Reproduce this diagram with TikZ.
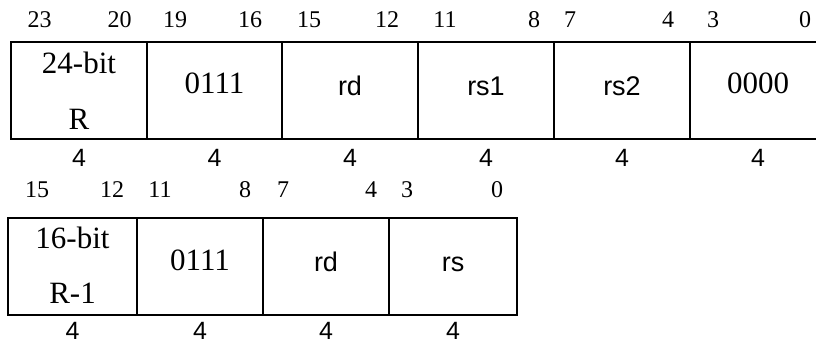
\documentclass[tikz,border=0pt]{standalone}
\usepackage{fontspec}
\setmainfont{Liberation Serif}
\setsansfont{Liberation Sans}
\begin{document}
\begin{tikzpicture}[x=1pt,y=-1pt,
 cell/.style={draw, line width=1.7pt, inner sep=0pt, minimum height=97pt},
 ser/.style={font=\fontsize{31}{35}\selectfont, inner sep=0pt, anchor=base},
 sans/.style={font=\sffamily\fontsize{27}{31}\selectfont, inner sep=0pt, anchor=base},
 bitnum/.style={font=\fontsize{24}{28}\selectfont, inner sep=0pt, anchor=base},
 fwidth/.style={font=\sffamily\fontsize{25}{29}\selectfont, inner sep=0pt, anchor=base}]
\useasboundingbox (0,0) rectangle (816,343);
\clip (0,0) rectangle (816,343);
% top row cells
\node[cell, minimum width=136pt] (c1) at (79,90.5) {};
\node[cell, minimum width=135pt] (c2) at (214.5,90.5) {};
\node[cell, minimum width=136pt] (c3) at (350,90.5) {};
\node[cell, minimum width=136pt] (c4) at (486,90.5) {};
\node[cell, minimum width=136pt] (c5) at (622,90.5) {};
\node[cell, minimum width=136pt] (c6) at (758,90.5) {};
% top row labels
\node[ser] (l1a) at (c1.center |- 0,73) {24-bit};
\node[ser] (l1b) at (c1.center |- 0,129) {R};
\node[ser] (l2) at (c2.center |- 0,93) {0111};
\node[sans] (l3) at (c3.center |- 0,95) {rd};
\node[sans] (l4) at (c4.center |- 0,95) {rs1};
\node[sans] (l5) at (c5.center |- 0,95) {rs2};
\node[ser] (l6) at (c6.center |- 0,93) {0000};
% top bit numbers
\node[bitnum] (b23) at (39.5,27) {23};
\node[bitnum] (b20) at (119.5,27) {20};
\node[bitnum] (b19) at (175,27) {19};
\node[bitnum] (b16) at (250,27) {16};
\node[bitnum] (b15) at (309,27) {15};
\node[bitnum] (b12) at (387,27) {12};
\node[bitnum] (b11) at (445,27) {11};
\node[bitnum] (b8) at (534,27) {8};
\node[bitnum] (b7) at (570,27) {7};
\node[bitnum] (b4) at (668,27) {4};
\node[bitnum] (b3) at (713,27) {3};
\node[bitnum] (b0) at (805,27) {0};
% top widths
\foreach \c in {c1,c2,c3,c4,c5,c6}
  \node[fwidth] (w\c) at (\c.center |- 0,166) {4};
% bottom row cells
\node[cell, minimum width=129pt] (d1) at (72.5,266.5) {};
\node[cell, minimum width=126pt] (d2) at (200,266.5) {};
\node[cell, minimum width=126pt] (d3) at (326,266.5) {};
\node[cell, minimum width=128pt] (d4) at (453,266.5) {};
% bottom labels
\node[ser] (m1a) at (d1.center |- 0,248) {16-bit};
\node[ser] (m1b) at (d1.center |- 0,303) {R-1};
\node[ser] (m2) at (d2.center |- 0,270) {0111};
\node[sans] (m3) at (d3.center |- 0,271) {rd};
\node[sans] (m4) at (d4.center |- 0,271) {rs};
% bottom bit numbers
\node[bitnum] (e15) at (37,197) {15};
\node[bitnum] (e12) at (112,197) {12};
\node[bitnum] (e11) at (160,197) {11};
\node[bitnum] (e8) at (245,197) {8};
\node[bitnum] (e7) at (283,197) {7};
\node[bitnum] (e4) at (371,197) {4};
\node[bitnum] (e3) at (407,197) {3};
\node[bitnum] (e0) at (497,197) {0};
% bottom widths
\foreach \d in {d1,d2,d3,d4}
  \node[fwidth] (w\d) at (\d.center |- 0,339) {4};
\end{tikzpicture}
\end{document}
